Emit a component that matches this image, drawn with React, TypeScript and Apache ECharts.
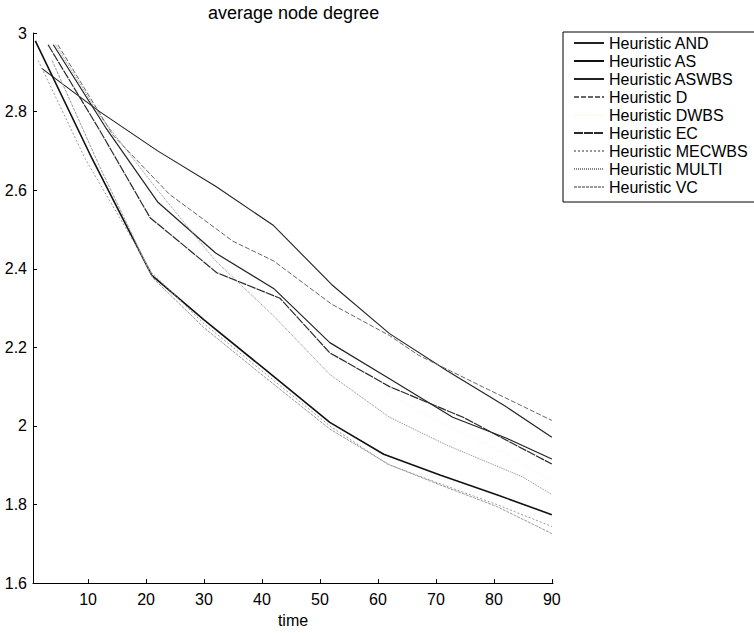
import React, { useEffect, useRef } from "react";
import * as echarts from "echarts";

const FONT = "'Liberation Sans', Arial, Helvetica, sans-serif";

const seriesNames = [
  "Heuristic AND",
  "Heuristic AS",
  "Heuristic ASWBS",
  "Heuristic D",
  "Heuristic DWBS",
  "Heuristic EC",
  "Heuristic MECWBS",
  "Heuristic MULTI",
  "Heuristic VC",
];

const xTicks = [10, 20, 30, 40, 50, 60, 70, 80, 90];

const heuristicAND = [[2, 2.91], [12, 2.8], [22, 2.7], [32, 2.61], [42, 2.51], [52, 2.36], [62, 2.235], [72, 2.14], [82, 2.05], [90, 1.971]];
const heuristicAS = [[0.9, 2.98], [10.7, 2.68], [21, 2.383], [30, 2.27], [40, 2.15], [51.7, 2.009], [61, 1.928], [70.7, 1.875], [80.5, 1.825], [90, 1.774]];
const heuristicASWBS = [[4, 2.97], [13, 2.76], [22, 2.57], [32, 2.44], [42, 2.35], [51.7, 2.212], [62, 2.12], [72.9, 2.022], [82, 1.97], [90, 1.916]];
const heuristicD = [[4.8, 2.97], [14.3, 2.74], [24, 2.59], [35, 2.47], [42, 2.42], [52, 2.31], [62, 2.23], [67, 2.18], [78, 2.1], [90, 2.014]];
const heuristicDWBS = [[3, 2.96], [12, 2.76], [22, 2.56], [32, 2.42], [42, 2.3], [52, 2.18], [62, 2.08], [72, 2.0], [82, 1.93], [90, 1.86]];
const heuristicEC = [[3.1, 2.97], [12.1, 2.75], [20.7, 2.53], [32.2, 2.39], [43.1, 2.325], [51.7, 2.186], [62, 2.1], [74.7, 2.022], [82, 1.965], [90, 1.903]];
const heuristicMECWBS = [[1.4, 2.93], [9.5, 2.68], [21, 2.39], [30, 2.26], [40, 2.14], [51.7, 2.0], [61.6, 1.903], [70.7, 1.853], [80.5, 1.8], [90, 1.744]];
const heuristicMULTI = [[4.4, 2.97], [12, 2.79], [22, 2.6], [32, 2.42], [42, 2.28], [51.7, 2.131], [62, 2.022], [71.9, 1.951], [85, 1.87], [90, 1.825]];
const heuristicVC = [[3.8, 2.93], [12, 2.66], [21.2, 2.376], [30, 2.25], [40, 2.13], [51.7, 1.992], [62, 1.901], [70.7, 1.85], [80.5, 1.795], [90, 1.726]];

const seriesData = [
  heuristicAND,
  heuristicAS,
  heuristicASWBS,
  heuristicD,
  heuristicDWBS,
  heuristicEC,
  heuristicMECWBS,
  heuristicMULTI,
  heuristicVC,
];

const lineStyles: any[] = [
  { color: "#222", width: 1.1, type: "solid" },
  { color: "#111", width: 1.6, type: "solid" },
  { color: "#222", width: 1.2, type: "solid" },
  { color: "#666", width: 1, type: [5, 2] },
  { color: "#fbfbf4", width: 1, type: "solid" },
  { color: "#2a2a2a", width: 1.2, type: [9, 1] },
  { color: "#999", width: 1, type: [2, 2] },
  { color: "#888", width: 1, type: [1, 1] },
  { color: "#9a9a9a", width: 1, type: [3, 1] },
];

export default function App() {
  const ref = useRef<HTMLDivElement>(null);
  useEffect(() => {
    if (!ref.current) return;
    const chart = echarts.init(ref.current, null, { renderer: "svg" });
    const option: any = {
      animation: false,
      backgroundColor: "#fff",
      title: {
        text: "average node degree",
        left: 208,
        top: 4,
        padding: 0,
        textStyle: { fontSize: 18, fontWeight: "normal", color: "#000", fontFamily: FONT },
      },
      legend: {
        orient: "vertical",
        left: 563,
        top: 32,
        padding: [2, 8, 6, 10],
        itemGap: 0,
        itemWidth: 30,
        itemHeight: 14,
        borderColor: "#000",
        borderWidth: 1,
        backgroundColor: "#fff",
        itemStyle: { opacity: 0 },
        textStyle: { fontSize: 16, lineHeight: 18, color: "#000", fontFamily: FONT },
        data: seriesNames,
      },
      grid: { left: 33, right: 201, top: 33, bottom: 46 },
      xAxis: {
        type: "value",
        min: 0.5,
        max: 90.2,
        name: "time",
        nameLocation: "middle",
        nameGap: 27,
        nameTextStyle: { fontSize: 16, color: "#000", fontFamily: FONT },
        axisLine: { show: true, lineStyle: { color: "#000", width: 1 } },
        axisTick: { show: true, inside: true, length: 4, customValues: xTicks, lineStyle: { color: "#000" } },
        axisLabel: { customValues: xTicks, fontSize: 16, color: "#000", margin: 8, fontFamily: FONT },
        splitLine: { show: false },
      },
      yAxis: {
        type: "value",
        min: 1.6,
        max: 3,
        interval: 0.2,
        axisLine: { show: true, lineStyle: { color: "#000", width: 1 } },
        axisTick: { show: true, inside: true, length: 4, lineStyle: { color: "#000" } },
        axisLabel: {
          fontSize: 16,
          color: "#000",
          margin: 6,
          fontFamily: FONT,
          formatter: (v: number) => String(+v.toFixed(1)),
        },
        splitLine: { show: false },
      },
      series: seriesNames.map((name, i) => ({
        name,
        type: "line",
        data: seriesData[i],
        symbol: "none",
        showSymbol: false,
        lineStyle: lineStyles[i],
        itemStyle: { color: lineStyles[i].color, opacity: 0 },
        z: i === 4 ? 1 : 2,
      })),
    };
    chart.setOption(option);
    return () => chart.dispose();
  }, []);
  return (
    <div
      ref={ref}
      style={{ position: "fixed", left: 0, top: 0, width: 754, height: 633 }}
    />
  );
}
